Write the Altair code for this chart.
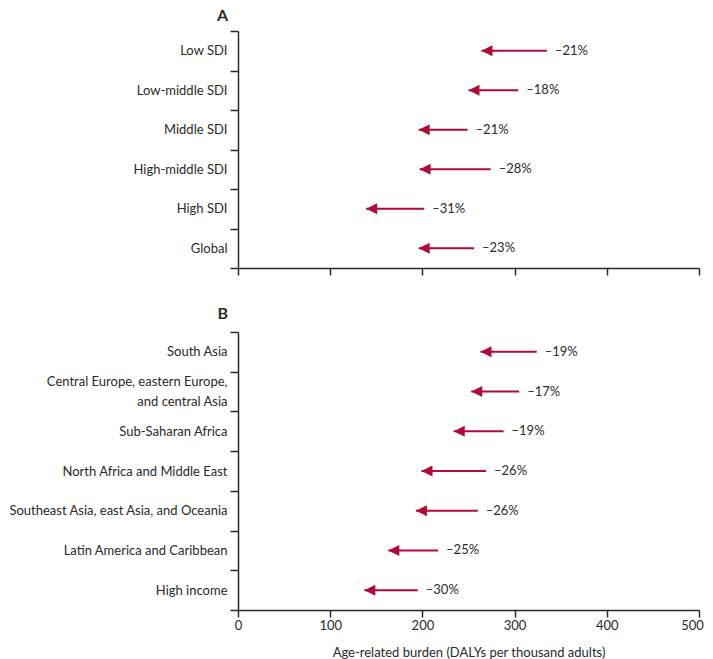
import altair as alt
import pandas as pd

# Panel A: SDI groups
categories_a = ["Low SDI", "Low-middle SDI", "Middle SDI", "High-middle SDI", "High SDI", "Global"]
start_a = [335, 304, 249, 274, 202, 256]
end_a = [264, 250, 196, 197, 139, 196]
pct_a = ["–21%", "–18%", "–21%", "–28%", "–31%", "–23%"]

# Panel B: GBD super-regions
categories_b = [
    "South Asia",
    "Central Europe, eastern Europe, and central Asia",
    "Sub-Saharan Africa",
    "North Africa and Middle East",
    "Southeast Asia, east Asia, and Oceania",
    "Latin America and Caribbean",
    "High income",
]
start_b = [324, 305, 288, 269, 260, 217, 195]
end_b = [263, 253, 234, 199, 193, 163, 137]
pct_b = ["–19%", "–17%", "–19%", "–26%", "–26%", "–25%", "–30%"]

x_ticks = [0, 100, 200, 300, 400, 500]

RED = "#B00A3B"
INK = "#2a2a2a"
FONT = "Lato"

ARROW = "M0,0L2,-1L2,1Z"
TWO_LINE = "Central Europe, eastern Europe, and central Asia"


def panel(cats, start, end, pct, title, height, show_x, title_offset):
    df = pd.DataFrame({"cat": cats, "start": start, "end": end, "pct": pct})
    y = alt.Y(
        "cat:N",
        sort=cats,
        scale=alt.Scale(paddingInner=0, paddingOuter=0),
        axis=alt.Axis(
            title=None,
            tickBand="extent",
            tickSize=8,
            labelPadding=3,
            labelLimit=400,
            labelFontSize=13,
            labelLineHeight=20,
            labelOffset={"condition": {"test": f"datum.value == '{TWO_LINE}'", "value": -10}, "value": 0},
            labelExpr=f"datum.value == '{TWO_LINE}' ? ['Central Europe, eastern Europe,', 'and central Asia'] : datum.value",
        ),
    )
    if show_x:
        xaxis = alt.Axis(
            values=x_ticks,
            title="Age-related burden (DALYs per thousand adults)",
            tickSize=7,
            labelPadding=2,
            labelFontSize=13,
            labelFlush=False,
            labelOffset={"condition": {"test": "datum.value == 500", "value": -7}, "value": 0},
            titleFontSize=13,
            titleFontWeight="normal",
            titlePadding=14,
        )
    else:
        xaxis = alt.Axis(values=x_ticks, labels=False, title=None, tickSize=7)
    x = alt.X("start:Q", scale=alt.Scale(domain=[0, 500], nice=False), axis=xaxis)

    base = alt.Chart(df)
    line = base.mark_rule(color=RED, strokeWidth=2).encode(x=x, x2="end:Q", y=y)
    head = base.mark_point(
        shape=ARROW, size=121, filled=True, color=RED, opacity=1, strokeWidth=0
    ).encode(x=alt.X("end:Q"), y=alt.Y("cat:N", sort=cats))
    text = base.mark_text(
        align="left", baseline="middle", dx=8, fontSize=13, color=INK, font=FONT
    ).encode(x="start:Q", y=alt.Y("cat:N", sort=cats), text="pct:N")
    return alt.layer(line, head, text).properties(
        width=461,
        height=height,
        title=alt.TitleParams(
            title,
            anchor="start",
            frame="group",
            align="right",
            dx=-10,
            fontSize=16,
            fontWeight="bold",
            font=FONT,
            color=INK,
            offset=title_offset,
        ),
    )


top = panel(categories_a, start_a, end_a, pct_a, "A", 237, False, 1)
bottom = panel(categories_b, start_b, end_b, pct_b, "B", 278, True, 4)

chart = (
    alt.vconcat(top, bottom, spacing=30)
    .properties(padding=0)
    .configure_view(stroke=None)
    .configure_axis(
        domainColor=INK,
        tickColor=INK,
        domainWidth=1.5,
        tickWidth=1.5,
        labelColor=INK,
        titleColor=INK,
        labelFont=FONT,
        titleFont=FONT,
        grid=False,
    )
)

chart.save("out.html", embed_options={"renderer": "svg", "actions": False})
